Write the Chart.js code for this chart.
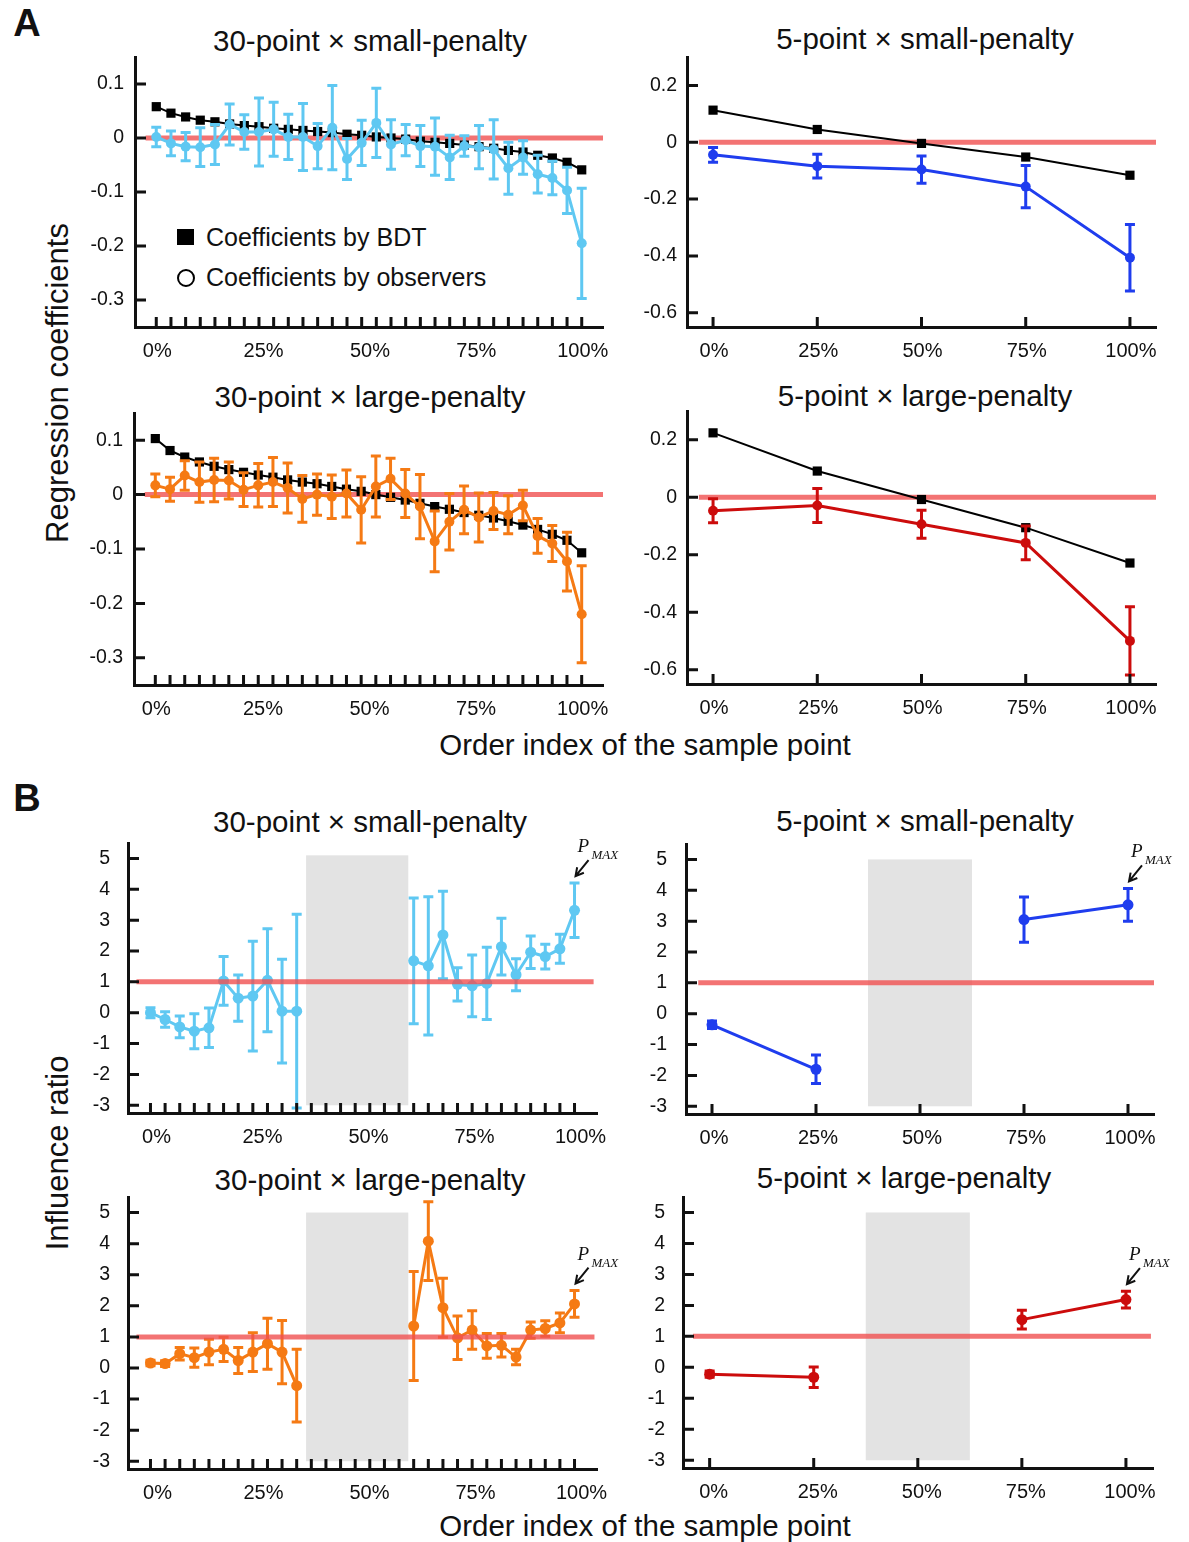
<!DOCTYPE html>
<html>
<head>
<meta charset="utf-8">
<script src="https://cdn.jsdelivr.net/npm/chart.js@4.4.1/dist/chart.umd.min.js"></script>
<style>
body { margin: 0; background: #fff; width: 1189px; height: 1542px; position: relative; overflow: hidden;
       font-family: "Liberation Sans", Arial, sans-serif; color: #111; }
canvas { position: absolute; }
.t { position: absolute; white-space: nowrap; line-height: 1; transform: translate(-50%, -50%); }
.title { font-size: 29.5px; }
.big { font-size: 29.5px; }
.ylab { font-size: 31px; transform: translate(-50%, -50%) rotate(-90deg); }
.letter { font-size: 38px; font-weight: bold; }
.leg { position: absolute; font-size: 25px; line-height: 1; white-space: nowrap; transform: translateY(-50%); }
.sq { position: absolute; width: 17px; height: 16px; background: #000; }
.ci { position: absolute; width: 18px; height: 18px; border: 2px solid #000; border-radius: 50%; box-sizing: border-box; }
</style>
</head>
<body>

<div class="t letter" style="left:27px;top:23px">A</div>
<div class="t letter" style="left:27px;top:798px">B</div>

<div class="t title" style="left:370px;top:41px">30-point × small-penalty</div>
<div class="t title" style="left:925px;top:39px">5-point × small-penalty</div>
<div class="t title" style="left:370px;top:397px">30-point × large-penalty</div>
<div class="t title" style="left:925px;top:396px">5-point × large-penalty</div>
<div class="t title" style="left:370px;top:822px">30-point × small-penalty</div>
<div class="t title" style="left:925px;top:821px">5-point × small-penalty</div>
<div class="t title" style="left:370px;top:1180px">30-point × large-penalty</div>
<div class="t title" style="left:904px;top:1178px">5-point × large-penalty</div>

<div class="t ylab" style="left:57px;top:383px">Regression coefficients</div>
<div class="t ylab" style="left:57px;top:1153px">Influence ratio</div>
<div class="t big" style="left:645px;top:745px">Order index of the sample point</div>
<div class="t big" style="left:645px;top:1526px">Order index of the sample point</div>

<div class="sq" style="left:177px;top:229px"></div>
<div class="leg" style="left:206px;top:237px">Coefficients by BDT</div>
<div class="ci" style="left:177px;top:269px"></div>
<div class="leg" style="left:206px;top:277px">Coefficients by observers</div>

<script>
const FONT = '"Liberation Sans", Arial, sans-serif'

// x positions of the sample points (percent of order index)
const pos30 = [0, 3.45, 6.9, 10.34, 13.79, 17.24, 20.69, 24.14, 27.59, 31.03, 34.48, 37.93, 41.38, 44.83, 48.28,
       51.72, 55.17, 58.62, 62.07, 65.52, 68.97, 72.41, 75.86, 79.31, 82.76, 86.21, 89.66, 93.1, 96.55, 100]
const pos5 = [0, 25, 50, 75, 100]
const xLabels = [0, 25, 50, 75, 100]

// A: regression coefficients
const bdt30Small = [0.058, 0.046, 0.039, 0.033, 0.030, 0.026, 0.023, 0.021, 0.018, 0.016, 0.014, 0.012, 0.010, 0.007, 0.005,
       0.002, 0.0, -0.002, -0.006, -0.008, -0.010, -0.013, -0.016, -0.019, -0.023, -0.026, -0.032, -0.037, -0.045, -0.059]
const obs30Small = [0.002, -0.010, -0.016, -0.017, -0.012, 0.025, 0.011, 0.011, 0.016, 0.002, 0.002, -0.015, 0.019, -0.039, -0.009,
       0.028, -0.012, -0.004, -0.015, -0.016, -0.036, -0.015, -0.017, -0.021, -0.056, -0.036, -0.067, -0.074, -0.097, -0.195]
const err30Small = [0.018, 0.023, 0.026, 0.036, 0.037, 0.038, 0.032, 0.063, 0.050, 0.042, 0.062, 0.042, 0.078, 0.038, 0.042,
       0.064, 0.046, 0.029, 0.038, 0.053, 0.041, 0.019, 0.040, 0.055, 0.048, 0.031, 0.035, 0.031, 0.043, 0.102]

const bdt30Large = [0.103, 0.081, 0.069, 0.060, 0.052, 0.046, 0.041, 0.036, 0.032, 0.027, 0.023, 0.020, 0.015, 0.010, 0.006,
       0.000, -0.005, -0.010, -0.016, -0.022, -0.027, -0.033, -0.038, -0.043, -0.049, -0.056, -0.064, -0.073, -0.084, -0.107]
const obs30Large = [0.017, 0.010, 0.035, 0.023, 0.027, 0.026, 0.009, 0.017, 0.023, 0.012, -0.008, 0.000, -0.004, 0.002, -0.028,
       0.015, 0.029, 0.002, -0.022, -0.086, -0.050, -0.028, -0.042, -0.030, -0.037, -0.020, -0.076, -0.090, -0.123, -0.220]
const err30Large = [0.021, 0.022, 0.027, 0.037, 0.040, 0.034, 0.031, 0.040, 0.045, 0.046, 0.043, 0.038, 0.040, 0.043, 0.061,
       0.056, 0.038, 0.044, 0.059, 0.056, 0.052, 0.044, 0.045, 0.034, 0.035, 0.028, 0.032, 0.033, 0.054, 0.089]

const bdt5Small = [0.113, 0.045, -0.004, -0.052, -0.116]
const obs5Small = [-0.044, -0.084, -0.096, -0.156, -0.406]
const err5Small = [0.026, 0.042, 0.048, 0.074, 0.117]

const bdt5Large = [0.224, 0.091, -0.008, -0.106, -0.229]
const obs5Large = [-0.047, -0.029, -0.094, -0.159, -0.500]
const err5Large = [0.042, 0.059, 0.049, 0.059, 0.119]

// B: influence ratio (null = excluded middle points)
const ratio30Small = [0.0, -0.22, -0.46, -0.60, -0.49, 1.03, 0.47, 0.54, 1.05, 0.05, 0.05,
       null, null, null, null, null, null, null,
       1.68, 1.52, 2.52, 0.92, 0.87, 0.95, 2.14, 1.23, 1.96, 1.82, 2.07, 3.32]
const ratioErr30Small = [0.16, 0.25, 0.35, 0.57, 0.64, 0.79, 0.75, 1.78, 1.67, 1.68, 3.14,
       null, null, null, null, null, null, null,
       2.04, 2.24, 1.42, 0.54, 1.0, 1.17, 0.92, 0.52, 0.53, 0.40, 0.47, 0.88]

const ratio30Large = [0.16, 0.14, 0.46, 0.33, 0.51, 0.60, 0.24, 0.51, 0.78, 0.51, -0.57,
       null, null, null, null, null, null, null,
       1.35, 4.08, 1.94, 0.97, 1.22, 0.71, 0.73, 0.35, 1.22, 1.27, 1.45, 2.06]
const ratioErr30Large = [0.09, 0.09, 0.2, 0.31, 0.41, 0.39, 0.42, 0.62, 0.82, 1.02, 1.17,
       null, null, null, null, null, null, null,
       1.75, 1.27, 0.95, 0.70, 0.62, 0.40, 0.38, 0.25, 0.26, 0.25, 0.32, 0.43]

const ratio5Small = [-0.36, -1.80, null, 3.05, 3.53]
const ratioErr5Small = [0.12, 0.46, null, 0.73, 0.53]
const ratio5Large = [-0.22, -0.32, null, 1.54, 2.19]
const ratioErr5Large = [0.10, 0.33, null, 0.30, 0.27]

// excluded ranges (grey bands) and reference levels
const band30X = [36.7, 60.8]
const band5X = [37.5, 62.5]
const refLevelA = 0
const refLevelB = 1

const yTicksA30 = [-0.3, -0.2, -0.1, 0, 0.1]
const yTicksA5 = [-0.6, -0.4, -0.2, 0, 0.2]
const yTicksB = [-3, -2, -1, 0, 1, 2, 3, 4, 5]

const LIGHTBLUE = '#5FC8F2'
const BLUE = '#1F3DEE'
const ORANGE = '#F57A14'
const RED = '#CC0C0C'
const REF = 'rgba(240, 80, 80, 0.8)'

const PAD_TOP = 40

const pts = (xs, ys) => xs.map((x, i) => ({ x: x, y: ys[i] }))

// error bars, drawn right after their own dataset
const errorBars = {
       id: 'errorBars',
       afterDatasetDraw(chart, args) {
              const ds = chart.data.datasets[args.index]
              if (!ds.errors) return
              const { ctx, scales: { x, y } } = chart
              ctx.save()
              ctx.strokeStyle = ds.borderColor
              ctx.lineWidth = 3
              ctx.beginPath()
              ds.data.forEach((p, i) => {
                     const e = ds.errors[i]
                     if (p.y == null || e == null) return
                     const px = x.getPixelForValue(p.x)
                     const top = y.getPixelForValue(p.y + e)
                     const bot = y.getPixelForValue(p.y - e)
                     ctx.moveTo(px, top); ctx.lineTo(px, bot)
                     ctx.moveTo(px - 5, top); ctx.lineTo(px + 5, top)
                     ctx.moveTo(px - 5, bot); ctx.lineTo(px + 5, bot)
              })
              ctx.stroke()
              ctx.restore()
       }
}

// tick marks pointing into the plot
const inwardTicks = {
       id: 'inwardTicks',
       afterDraw(chart, args, opts) {
              const { ctx, chartArea: a, scales: { x, y } } = chart
              ctx.save()
              ctx.strokeStyle = '#111'
              ctx.lineWidth = 3
              ctx.beginPath()
              opts.xs.forEach(v => {
                     const px = x.getPixelForValue(v)
                     ctx.moveTo(px, a.bottom); ctx.lineTo(px, a.bottom - 10)
              })
              y.ticks.forEach(t => {
                     const py = y.getPixelForValue(t.value)
                     ctx.moveTo(a.left, py); ctx.lineTo(a.left + 11, py)
              })
              ctx.stroke()
              ctx.restore()
       }
}

const band = {
       id: 'band',
       beforeDatasetsDraw(chart, args, opts) {
              if (!opts.x) return
              const { ctx, scales: { x, y } } = chart
              const x0 = x.getPixelForValue(opts.x[0]), x1 = x.getPixelForValue(opts.x[1])
              const y0 = y.getPixelForValue(opts.y[1]), y1 = y.getPixelForValue(opts.y[0])
              ctx.save()
              ctx.fillStyle = '#e3e3e3'
              ctx.fillRect(x0, y0, x1 - x0, y1 - y0)
              ctx.restore()
       }
}

// P_MAX label with arrow above the last point
const pmax = {
       id: 'pmax',
       afterDraw(chart, args, opts) {
              if (!opts.show) return
              const { ctx, scales: { x, y } } = chart
              const ds = chart.data.datasets[opts.ds]
              const n = ds.data.length - 1
              const px = x.getPixelForValue(ds.data[n].x)
              const ty = y.getPixelForValue(ds.data[n].y + ds.errors[n])
              const tx0 = px + 14, ty0 = ty - 23, tx1 = px + 1, ty1 = ty - 7
              const ang = Math.atan2(ty1 - ty0, tx1 - tx0)
              ctx.save()
              ctx.strokeStyle = '#111'
              ctx.lineWidth = 2
              ctx.beginPath()
              ctx.moveTo(tx0, ty0); ctx.lineTo(tx1, ty1)
              ctx.moveTo(tx1 - 9 * Math.cos(ang - 0.5), ty1 - 9 * Math.sin(ang - 0.5)); ctx.lineTo(tx1, ty1)
              ctx.lineTo(tx1 - 9 * Math.cos(ang + 0.5), ty1 - 9 * Math.sin(ang + 0.5))
              ctx.stroke()
              ctx.fillStyle = '#111'
              ctx.textBaseline = 'alphabetic'
              ctx.font = 'italic 19px "Liberation Serif", serif'
              ctx.fillText('P', px + 3, ty - 31)
              ctx.font = 'italic 13px "Liberation Serif", serif'
              ctx.fillText('MAX', px + 17, ty - 24)
              ctx.restore()
       }
}

function coefDatasets(xs, bdt, obs, err, col, refX) {
       return [
              { data: pts(refX, [refLevelA, refLevelA]), borderColor: REF, borderWidth: 5, pointRadius: 0, order: 3 },
              { data: pts(xs, bdt), borderColor: '#000', borderWidth: 2, pointStyle: 'rect', pointRadius: 6.5,
                     pointBackgroundColor: '#000', pointBorderWidth: 0, order: 2 },
              { data: pts(xs, obs), errors: err, borderColor: col, borderWidth: 3, pointRadius: 5,
                     pointBackgroundColor: col, pointBorderWidth: 0, order: 1 }
       ]
}

function ratioDatasets(xs, vals, err, col, refX) {
       return [
              { data: pts(refX, [refLevelB, refLevelB]), borderColor: REF, borderWidth: 5, pointRadius: 0, order: 0 },
              { data: pts(xs, vals), errors: err, borderColor: col, borderWidth: 3, pointRadius: 5.5,
                     pointBackgroundColor: col, pointBorderWidth: 0, order: 1 }
       ]
}

const panels = [
       { L: 135, R: 603, T: 57, B: 327, xMin: -5, xMax: 105, yMin: -0.35, yMax: 0.15, yTicks: yTicksA30, yPad: 11, lo: 1,
              xs: pos30, datasets: coefDatasets(pos30, bdt30Small, obs30Small, err30Small, LIGHTBLUE, [-2.5, 105]) },
       { L: 687, R: 1156, T: 57, B: 327, xMin: -6.25, xMax: 106.25, yMin: -0.65, yMax: 0.3, yTicks: yTicksA5, yPad: 10, lo: 1,
              xs: pos5, datasets: coefDatasets(pos5, bdt5Small, obs5Small, err5Small, BLUE, [-3.4, 106.25]) },
       { L: 134, R: 603, T: 413, B: 685, xMin: -5, xMax: 105, yMin: -0.35, yMax: 0.15, yTicks: yTicksA30, yPad: 11, lo: 1,
              xs: pos30, datasets: coefDatasets(pos30, bdt30Large, obs30Large, err30Large, ORANGE, [-2.5, 105]) },
       { L: 687, R: 1156, T: 411, B: 684, xMin: -6.25, xMax: 106.25, yMin: -0.65, yMax: 0.3, yTicks: yTicksA5, yPad: 10, lo: 1,
              xs: pos5, datasets: coefDatasets(pos5, bdt5Large, obs5Large, err5Large, RED, [-3.4, 106.25]) },
       { L: 128, R: 597, T: 843, B: 1113, xMin: -5.3, xMax: 105.3, yMin: -3.25, yMax: 5.5, yTicks: yTicksB, yPad: 18, lo: 6,
              xs: pos30, bandX: band30X, bandY: [-3, 5.1], pmax: true,
              datasets: ratioDatasets(pos30, ratio30Small, ratioErr30Small, LIGHTBLUE, [-3.3, 104.5]) },
       { L: 686, R: 1154, T: 844, B: 1114, xMin: -6.25, xMax: 106.25, yMin: -3.25, yMax: 5.5, yTicks: yTicksB, yPad: 19, lo: 2,
              xs: pos5, bandX: band5X, bandY: [-3, 5], pmax: true,
              datasets: ratioDatasets(pos5, ratio5Small, ratioErr5Small, BLUE, [-3.3, 106.25]) },
       { L: 128, R: 597, T: 1197, B: 1469, xMin: -5.3, xMax: 105.3, yMin: -3.25, yMax: 5.5, yTicks: yTicksB, yPad: 18, lo: 7,
              xs: pos30, bandX: band30X, bandY: [-3, 5], pmax: true,
              datasets: ratioDatasets(pos30, ratio30Large, ratioErr30Large, ORANGE, [-3.3, 104.7]) },
       { L: 683, R: 1153, T: 1197, B: 1468, xMin: -6.4, xMax: 106.5, yMin: -3.25, yMax: 5.5, yTicks: yTicksB, yPad: 18, lo: 4,
              xs: pos5, bandX: band5X, bandY: [-3, 5], pmax: true,
              datasets: ratioDatasets(pos5, ratio5Large, ratioErr5Large, RED, [-4, 106]) }
]

function drawPanel(p) {
       const cv = document.createElement('canvas')
       cv.width = p.R - p.L + 100
       cv.height = p.B - p.T + PAD_TOP + 45
       cv.style.left = (p.L - 70) + 'px'
       cv.style.top = (p.T - PAD_TOP) + 'px'
       document.body.appendChild(cv)

       new Chart(cv, {
              type: 'line',
              data: { datasets: p.datasets },
              plugins: [band, errorBars, inwardTicks, pmax],
              options: {
                     responsive: false,
                     animation: false,
                     events: [],
                     layout: { padding: { top: PAD_TOP, right: 30, left: 0, bottom: 0 } },
                     plugins: {
                            legend: { display: false },
                            tooltip: { enabled: false },
                            inwardTicks: { xs: p.xs },
                            band: { x: p.bandX, y: p.bandY },
                            pmax: { show: !!p.pmax, ds: 1 }
                     },
                     scales: {
                            x: {
                                   type: 'linear', min: p.xMin, max: p.xMax,
                                   afterBuildTicks: s => { s.ticks = xLabels.map(v => ({ value: v })) },
                                   afterFit: s => { s.height = 45 },
                                   grid: { display: false, drawTicks: false },
                                   border: { display: true, width: 3, color: '#111' },
                                   ticks: {
                                          autoSkip: false, maxRotation: 0, padding: 12, labelOffset: p.lo,
                                          color: '#111', font: { family: FONT, size: 20 },
                                          callback: v => v + '%'
                                   }
                            },
                            y: {
                                   type: 'linear', min: p.yMin, max: p.yMax,
                                   afterBuildTicks: s => { s.ticks = p.yTicks.map(v => ({ value: v })) },
                                   afterFit: s => { s.width = 70 },
                                   grid: { display: false, drawTicks: false },
                                   border: { display: true, width: 3, color: '#111' },
                                   ticks: {
                                          padding: p.yPad, color: '#111', font: { family: FONT, size: 19.5 },
                                          callback: v => String(v)
                                   }
                            }
                     }
              }
       })
}

panels.forEach(drawPanel)
</script>
</body>
</html>
